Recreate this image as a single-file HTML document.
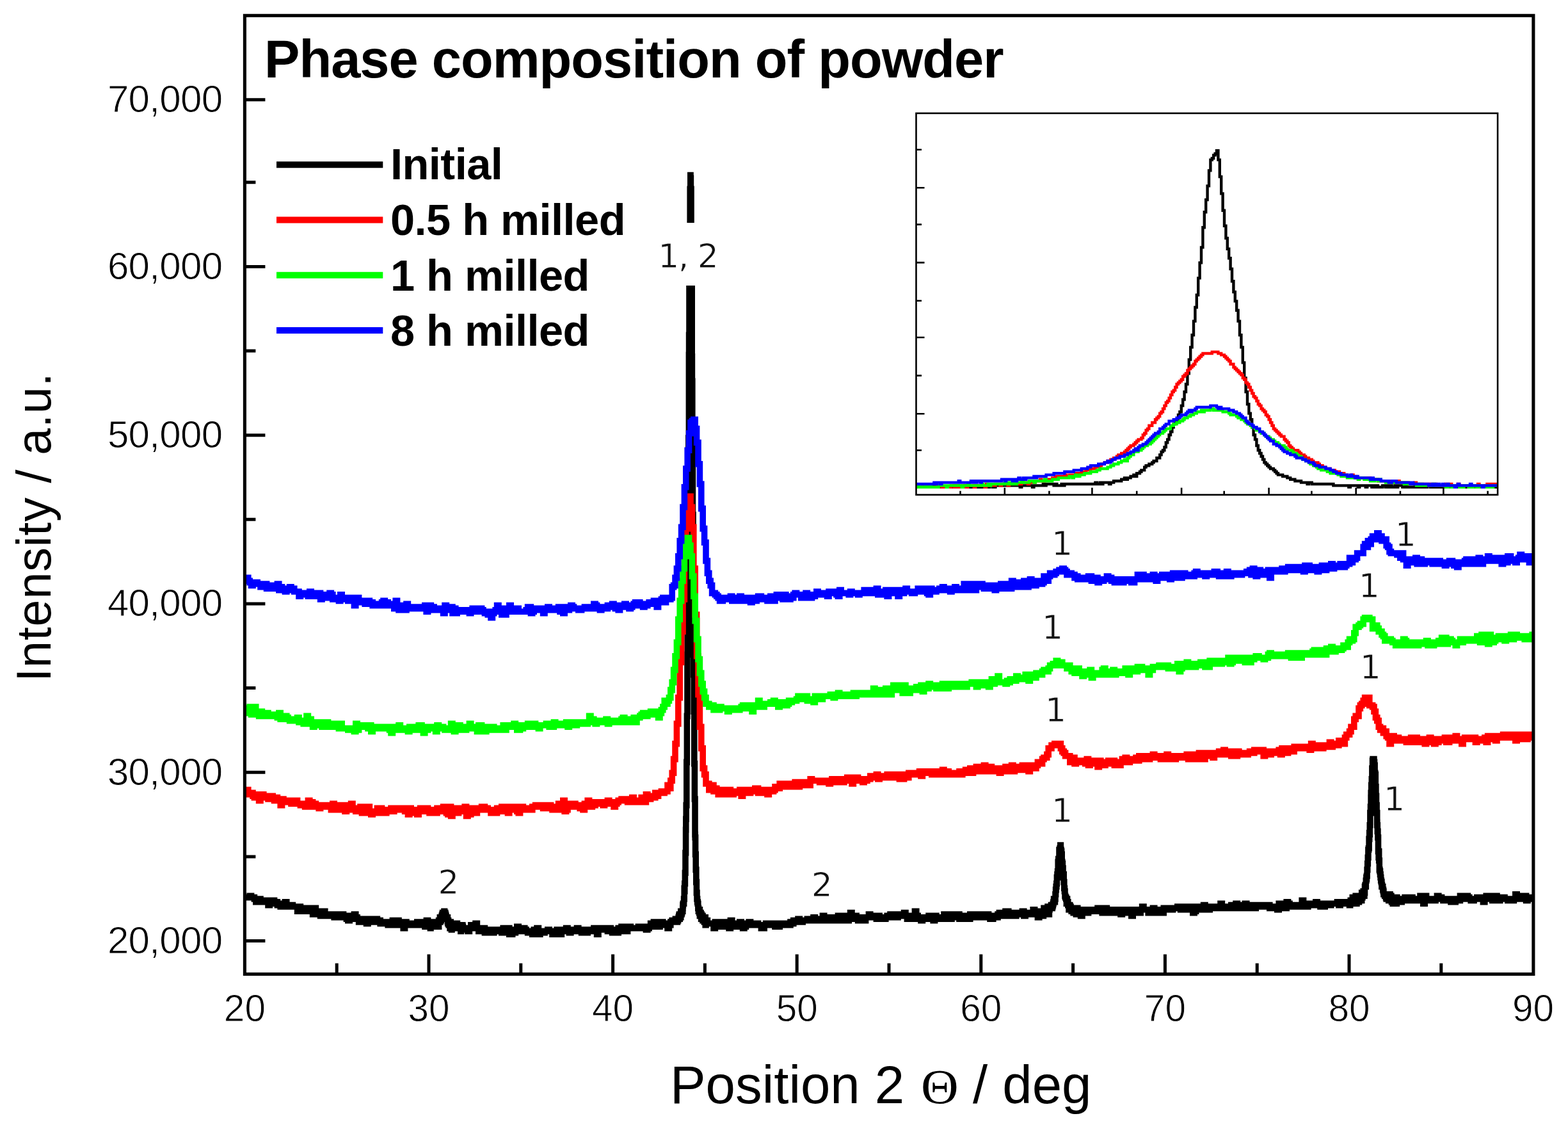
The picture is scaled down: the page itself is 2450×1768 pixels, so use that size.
<!DOCTYPE html><html><head><meta charset="utf-8"><title>Phase composition of powder</title>
<style>html,body{margin:0;padding:0;background:#fff;overflow:hidden;}svg{display:block;}</style></head><body>
<svg width="2450" height="1768" viewBox="0 0 2450 1768" font-family="'Liberation Sans', Arial, sans-serif">
<rect width="2450" height="1768" fill="#fff"/>
<defs><clipPath id="pc"><rect x="380" y="22" width="2018" height="1501"/></clipPath><clipPath id="ic"><rect x="1431.5" y="176.9" width="908.6" height="595.9"/></clipPath></defs>
<g fill="none" stroke-width="9.6" stroke-linejoin="miter" stroke-linecap="square" clip-path="url(#pc)">
<path stroke="#000" d="M383.0 1401.6H390.2V1399.2H392.6V1401.6H397.4V1404.0H399.8V1408.8H402.2V1404.0H407.0V1408.8H414.2V1406.4H416.6V1408.8H419.0V1413.6H421.4V1406.4H423.8V1411.2H426.2V1406.4H428.6V1408.8H433.4V1413.6H435.8V1411.2H438.2V1416.0H443.0V1413.6H445.4V1408.8H447.8V1413.6H450.2V1416.0H455.0V1413.6H457.4V1416.0H464.6V1423.2H467.0V1416.0H469.4V1420.8H471.8V1423.2H474.2V1418.4H476.6V1420.8H479.0V1423.2H483.8V1418.4H486.2V1423.2H488.6V1428.0H491.0V1418.4H493.4V1428.0H495.8V1425.6H498.2V1423.2H500.6V1430.4H503.0V1428.0H505.4V1423.2H507.8V1428.0H510.2V1430.4H512.6V1428.0H515.0V1430.4H517.4V1428.0H519.8V1430.4H522.2V1432.8H524.6V1428.0H527.0V1430.4H531.8V1432.8H534.2V1428.0H536.6V1430.4H539.0V1432.8H541.4V1435.2H543.8V1437.6H546.2V1430.4H548.6V1432.8H551.0V1435.2H553.4V1428.0H555.8V1432.8H558.2V1435.2H560.6V1440.0H563.0V1437.6H565.4V1435.2H572.6V1442.4H575.0V1435.2H577.4V1437.6H579.8V1440.0H582.2V1437.6H587.0V1435.2H589.4V1440.0H591.8V1437.6H594.2V1442.4H599.0V1440.0H601.4V1442.4H603.8V1440.0H606.2V1444.8H608.6V1442.4H611.0V1444.8H613.4V1437.6H615.8V1444.8H618.2V1437.6H623.0V1442.4H625.4V1440.0H627.8V1444.8H630.2V1449.6H632.6V1440.0H635.0V1442.4H637.4V1444.8H642.2V1442.4H647.0V1444.8H651.8V1440.0H654.2V1444.8H659.0V1440.0H661.4V1444.8H663.8V1442.4H664.0V1447.2H664.6V1444.8H665.8V1442.4H666.2V1444.8H666.4V1437.6H667.0V1440.0H667.6V1444.8H668.2V1437.6H668.6V1447.2H668.8V1440.0H669.4V1447.2H670.0V1442.4H670.6V1447.2H671.0V1444.8H671.2V1440.0H671.8V1447.2H672.4V1449.6H673.0V1444.8H673.4V1442.4H673.6V1444.8H674.2V1442.4H674.8V1447.2H675.4V1442.4H675.8V1444.8H676.0V1442.4H677.2V1440.0H677.8V1447.2H678.2V1444.8H678.4V1447.2H679.0V1444.8H679.6V1442.4H680.8V1444.8H681.4V1442.4H682.6V1440.0H683.0V1442.4H683.2V1447.2H683.8V1442.4H684.4V1440.0H685.0V1442.4H685.4V1447.2H685.6V1437.6H686.2V1440.0H686.8V1437.6H687.4V1432.8H687.8V1440.0H688.0V1437.6H689.2V1432.8H689.8V1435.2H690.2V1430.4H691.0V1428.0H691.6V1425.6H692.2V1430.4H692.6V1425.6H692.8V1428.0H693.4V1425.6H694.0V1423.2H694.6V1425.6H695.0V1428.0H695.2V1425.6H695.8V1428.0H696.4V1430.4H697.0V1435.2H697.6V1432.8H699.4V1440.0H699.8V1442.4H700.0V1437.6H700.6V1442.4H701.2V1444.8H702.4V1442.4H703.0V1449.6H703.6V1440.0H704.2V1447.2H705.4V1452.0H706.0V1449.6H706.6V1442.4H707.2V1449.6H707.8V1444.8H708.4V1447.2H709.0V1449.6H709.4V1442.4H710.2V1447.2H712.0V1444.8H712.6V1442.4H713.2V1447.2H713.8V1444.8H714.2V1442.4H714.4V1449.6H715.0V1447.2H715.6V1449.6H716.2V1444.8H716.6V1447.2H716.8V1444.8H717.4V1447.2H718.0V1449.6H718.6V1447.2H719.0V1449.6H719.8V1454.4H720.4V1444.8H721.0V1452.0H721.4V1449.6H722.2V1444.8H722.8V1447.2H723.4V1452.0H723.8V1449.6H731.0V1454.4H733.4V1449.6H735.8V1444.8H738.2V1449.6H740.6V1444.8H743.0V1442.4H745.4V1449.6H747.8V1454.4H750.2V1452.0H752.6V1449.6H757.4V1456.8H759.8V1452.0H767.0V1454.4H769.4V1456.8H771.8V1454.4H776.6V1452.0H779.0V1454.4H781.4V1452.0H783.8V1456.8H786.2V1449.6H788.6V1454.4H793.4V1449.6H795.8V1459.2H800.6V1452.0H803.0V1456.8H805.4V1454.4H807.8V1447.2H810.2V1454.4H817.4V1449.6H819.8V1452.0H822.2V1454.4H824.6V1456.8H827.0V1454.4H831.8V1459.2H834.2V1452.0H839.0V1449.6H841.4V1459.2H843.8V1456.8H851.0V1454.4H855.8V1452.0H858.2V1454.4H863.0V1459.2H865.4V1454.4H870.2V1452.0H875.0V1459.2H877.4V1454.4H882.2V1452.0H884.6V1449.6H887.0V1454.4H889.4V1456.8H891.8V1452.0H896.6V1454.4H901.4V1449.6H903.8V1452.0H908.6V1456.8H911.0V1452.0H913.4V1454.4H915.8V1456.8H918.2V1452.0H923.0V1454.4H925.4V1452.0H927.8V1449.6H930.2V1454.4H932.6V1459.2H935.0V1452.0H939.8V1449.6H942.2V1452.0H944.6V1449.6H949.4V1454.4H951.8V1449.6H954.2V1454.4H956.6V1456.8H959.0V1452.0H963.8V1456.8H966.2V1449.6H971.0V1447.2H973.4V1452.0H975.8V1454.4H980.6V1447.2H985.4V1449.6H997.4V1447.2H999.8V1449.6H1004.6V1447.2H1007.0V1449.6H1009.4V1452.0H1011.8V1449.6H1014.2V1447.2H1016.6V1442.4H1019.0V1447.2H1021.4V1440.0H1023.8V1442.4H1026.2V1447.2H1031.0V1444.8H1033.4V1440.0H1035.8V1442.4H1040.6V1444.8H1043.0V1449.6H1045.4V1444.8H1047.8V1440.0H1050.2V1437.6H1052.6V1440.0H1055.4V1435.2H1056.0V1440.0H1056.6V1435.2H1057.2V1440.0H1058.4V1435.2H1059.0V1437.6H1059.6V1435.2H1060.2V1432.8H1060.8V1430.4H1061.4V1428.0H1062.0V1435.2H1062.2V1430.4H1063.2V1432.8H1063.8V1423.2H1064.4V1425.6H1064.6V1428.0H1065.0V1425.6H1065.6V1423.2H1066.8V1418.4H1067.0V1413.6H1067.4V1411.2H1068.6V1404.0H1069.2V1387.2H1069.4V1392.0H1069.8V1380.0H1070.4V1363.2H1071.0V1332.0H1071.6V1296.0H1071.8V1279.2H1072.2V1257.6H1072.8V1190.4H1073.4V1118.4H1074.0V1022.4H1074.2V991.2H1074.6V914.4H1075.2V801.6H1075.8V684.0H1076.4V554.4H1076.6V523.2H1077.0V448.8H1077.6V355.2H1078.2V295.2H1078.8V273.6H1079.0V278.4H1079.4V295.2H1080.0V355.2H1080.6V446.4H1081.2V556.8H1081.4V595.2H1081.8V679.2H1082.4V804.0H1083.0V914.4H1083.6V1022.4H1083.8V1053.6H1084.2V1111.2H1084.8V1192.8H1085.4V1248.0H1086.0V1303.2H1086.2V1308.0H1086.6V1334.4H1087.2V1358.4H1087.8V1377.6H1088.4V1394.4H1089.0V1404.0H1089.6V1408.8H1090.2V1411.2H1090.8V1418.4H1091.4V1423.2H1092.0V1420.8H1092.6V1425.6H1093.2V1420.8H1093.4V1430.4H1093.8V1425.6H1095.0V1430.4H1095.6V1435.2H1095.8V1428.0H1096.2V1430.4H1096.8V1432.8H1097.4V1430.4H1098.0V1437.6H1098.2V1432.8H1099.2V1437.6H1099.8V1435.2H1100.4V1440.0H1100.6V1435.2H1101.6V1432.8H1102.2V1444.8H1103.0V1437.6H1105.4V1442.4H1115.0V1449.6H1117.4V1440.0H1122.2V1442.4H1124.6V1440.0H1127.0V1447.2H1131.8V1442.4H1134.2V1440.0H1136.6V1444.8H1139.0V1449.6H1141.4V1437.6H1143.8V1447.2H1146.2V1442.4H1148.6V1447.2H1151.0V1442.4H1153.4V1444.8H1155.8V1440.0H1158.2V1442.4H1160.6V1449.6H1163.0V1447.2H1165.4V1444.8H1167.8V1442.4H1170.2V1440.0H1172.6V1442.4H1175.0V1444.8H1182.2V1442.4H1184.6V1444.8H1189.4V1449.6H1194.2V1444.8H1196.6V1442.4H1199.0V1444.8H1201.4V1442.4H1206.2V1444.8H1208.6V1442.4H1211.0V1447.2H1213.4V1444.8H1215.8V1447.2H1218.2V1444.8H1220.6V1442.4H1225.4V1444.8H1227.8V1442.4H1230.2V1444.8H1235.0V1440.0H1237.4V1442.4H1239.8V1437.6H1242.2V1440.0H1247.0V1435.2H1249.4V1440.0H1254.2V1437.6H1261.4V1435.2H1268.6V1437.6H1271.0V1432.8H1273.4V1437.6H1278.2V1435.2H1283.0V1437.6H1285.4V1430.4H1287.8V1437.6H1290.2V1435.2H1295.0V1437.6H1297.4V1432.8H1299.8V1435.2H1302.2V1437.6H1304.6V1435.2H1309.4V1430.4H1311.8V1435.2H1314.2V1437.6H1319.0V1435.2H1321.4V1430.4H1323.8V1437.6H1326.2V1432.8H1328.6V1425.6H1331.0V1435.2H1333.4V1430.4H1338.2V1432.8H1340.6V1437.6H1343.0V1432.8H1345.4V1435.2H1347.8V1437.6H1352.6V1432.8H1357.4V1428.0H1359.8V1430.4H1362.2V1432.8H1369.4V1435.2H1371.8V1430.4H1374.2V1432.8H1376.6V1435.2H1379.0V1432.8H1381.4V1435.2H1383.8V1432.8H1386.2V1430.4H1388.6V1432.8H1391.0V1428.0H1395.8V1432.8H1403.0V1428.0H1405.4V1430.4H1412.6V1425.6H1415.0V1430.4H1417.4V1435.2H1419.8V1432.8H1422.2V1430.4H1424.6V1432.8H1427.0V1435.2H1429.4V1423.2H1431.8V1430.4H1434.2V1432.8H1439.0V1437.6H1441.4V1435.2H1443.8V1432.8H1448.6V1435.2H1451.0V1430.4H1453.4V1432.8H1455.8V1435.2H1458.2V1437.6H1460.6V1430.4H1463.0V1432.8H1467.8V1435.2H1470.2V1432.8H1472.6V1435.2H1475.0V1428.0H1477.4V1430.4H1482.2V1435.2H1487.0V1428.0H1489.4V1430.4H1491.8V1432.8H1494.2V1430.4H1496.6V1428.0H1499.0V1435.2H1501.4V1432.8H1506.2V1430.4H1508.6V1435.2H1511.0V1430.4H1513.4V1435.2H1515.8V1428.0H1520.6V1430.4H1523.0V1428.0H1525.4V1432.8H1527.8V1430.4H1530.2V1428.0H1532.6V1430.4H1535.0V1428.0H1537.4V1432.8H1539.8V1428.0H1544.6V1432.8H1547.0V1435.2H1551.8V1430.4H1556.6V1432.8H1559.0V1428.0H1561.4V1425.6H1563.8V1428.0H1566.2V1430.4H1568.6V1425.6H1571.0V1423.2H1575.8V1430.4H1578.2V1425.6H1580.6V1428.0H1585.4V1430.4H1587.8V1425.6H1590.2V1428.0H1592.6V1425.6H1597.4V1423.2H1599.8V1430.4H1602.2V1425.6H1611.8V1428.0H1614.2V1420.8H1616.6V1423.2H1619.0V1425.6H1621.4V1432.8H1623.8V1428.0H1625.0V1425.6H1625.6V1428.0H1626.2V1430.4H1626.2V1423.2H1627.4V1428.0H1628.0V1425.6H1628.6V1423.2H1629.2V1430.4H1630.4V1425.6H1631.0V1418.4H1631.6V1425.6H1632.2V1423.2H1632.8V1425.6H1633.4V1423.2H1634.0V1418.4H1634.6V1423.2H1635.2V1420.8H1637.0V1416.0H1637.6V1425.6H1638.2V1423.2H1638.2V1425.6H1638.8V1428.0H1639.4V1420.8H1640.0V1416.0H1640.6V1418.4H1640.6V1416.0H1641.2V1418.4H1642.4V1413.6H1643.0V1418.4H1643.0V1413.6H1643.6V1418.4H1644.2V1416.0H1644.8V1413.6H1645.4V1411.2H1646.0V1408.8H1646.6V1404.0H1647.2V1406.4H1647.8V1408.8H1648.4V1404.0H1649.0V1396.8H1649.6V1389.6H1650.2V1384.8H1650.8V1380.0H1651.4V1370.4H1652.0V1365.6H1652.6V1356.0H1652.6V1358.4H1653.2V1346.4H1653.8V1341.6H1655.0V1329.6H1655.0V1327.2H1656.2V1324.8H1656.8V1320.0H1657.4V1324.8H1657.4V1327.2H1658.0V1329.6H1658.6V1334.4H1659.2V1346.4H1659.8V1348.8H1660.4V1356.0H1661.0V1370.4H1661.6V1365.6H1662.2V1377.6H1662.8V1387.2H1663.4V1392.0H1664.0V1399.2H1664.6V1394.4H1664.6V1401.6H1665.8V1404.0H1666.4V1411.2H1667.0V1408.8H1667.0V1404.0H1667.6V1411.2H1668.2V1408.8H1668.8V1413.6H1669.4V1418.4H1669.4V1416.0H1670.0V1420.8H1670.6V1418.4H1671.2V1413.6H1671.8V1416.0H1673.0V1420.8H1673.6V1418.4H1674.2V1416.0H1674.2V1423.2H1674.8V1420.8H1675.4V1423.2H1676.0V1420.8H1676.6V1423.2H1676.6V1420.8H1677.2V1425.6H1677.8V1423.2H1679.0V1418.4H1679.6V1420.8H1680.8V1423.2H1681.4V1418.4H1681.4V1428.0H1682.0V1423.2H1682.6V1418.4H1683.8V1423.2H1684.4V1420.8H1685.0V1423.2H1685.6V1420.8H1686.2V1425.6H1686.2V1420.8H1686.8V1423.2H1687.4V1425.6H1688.6V1430.4H1691.0V1420.8H1693.4V1423.2H1695.8V1420.8H1698.2V1425.6H1700.6V1420.8H1703.0V1423.2H1707.8V1420.8H1712.6V1423.2H1715.0V1418.4H1717.4V1420.8H1719.8V1423.2H1722.2V1425.6H1724.6V1423.2H1727.0V1418.4H1729.4V1423.2H1731.8V1425.6H1736.6V1423.2H1739.0V1420.8H1741.4V1425.6H1743.8V1420.8H1751.0V1428.0H1753.4V1423.2H1755.8V1425.6H1758.2V1420.8H1760.6V1425.6H1763.0V1420.8H1765.4V1423.2H1767.8V1430.4H1770.2V1425.6H1772.6V1420.8H1777.4V1423.2H1779.8V1425.6H1782.2V1420.8H1784.6V1416.0H1787.0V1420.8H1794.2V1425.6H1796.6V1420.8H1799.0V1423.2H1801.4V1418.4H1803.8V1423.2H1806.2V1425.6H1808.6V1423.2H1811.0V1420.8H1815.8V1425.6H1818.2V1418.4H1823.0V1420.8H1827.8V1418.4H1830.2V1420.8H1832.6V1418.4H1839.8V1416.0H1842.2V1418.4H1844.6V1420.8H1847.0V1416.0H1849.4V1418.4H1851.8V1420.8H1854.2V1416.0H1856.6V1418.4H1859.0V1416.0H1861.4V1420.8H1863.8V1425.6H1866.2V1423.2H1868.6V1416.0H1871.0V1420.8H1873.4V1418.4H1878.2V1420.8H1880.6V1413.6H1883.0V1420.8H1885.4V1416.0H1887.8V1420.8H1890.2V1418.4H1892.6V1416.0H1895.0V1418.4H1899.8V1416.0H1902.2V1418.4H1904.6V1416.0H1907.0V1411.2H1909.4V1418.4H1914.2V1416.0H1919.0V1418.4H1921.4V1416.0H1923.8V1413.6H1926.2V1416.0H1928.6V1418.4H1931.0V1411.2H1933.4V1418.4H1935.8V1413.6H1940.6V1418.4H1943.0V1416.0H1945.4V1411.2H1947.8V1413.6H1950.2V1418.4H1955.0V1413.6H1957.4V1416.0H1959.8V1418.4H1962.2V1413.6H1964.6V1416.0H1969.4V1413.6H1974.2V1416.0H1979.0V1413.6H1983.8V1418.4H1986.2V1416.0H1991.0V1418.4H1993.4V1416.0H1995.8V1420.8H1998.2V1411.2H2000.6V1416.0H2003.0V1413.6H2005.4V1418.4H2010.2V1408.8H2012.6V1411.2H2015.0V1416.0H2022.2V1413.6H2024.6V1416.0H2029.4V1413.6H2031.8V1416.0H2034.2V1406.4H2036.6V1416.0H2039.0V1411.2H2041.4V1416.0H2043.8V1411.2H2048.6V1413.6H2051.0V1411.2H2055.8V1408.8H2058.2V1413.6H2063.0V1416.0H2065.4V1411.2H2067.8V1416.0H2070.2V1411.2H2075.0V1413.6H2079.8V1411.2H2089.4V1408.8H2091.8V1413.6H2094.2V1408.8H2096.6V1411.2H2099.0V1408.8H2101.4V1411.2H2106.2V1408.8H2108.5V1413.6H2108.6V1408.8H2109.1V1413.6H2109.7V1411.2H2110.3V1406.4H2111.0V1408.8H2112.7V1406.4H2113.3V1401.6H2113.4V1406.4H2113.9V1401.6H2114.5V1408.8H2115.1V1404.0H2115.8V1406.4H2116.3V1408.8H2116.9V1401.6H2118.1V1404.0H2118.2V1399.2H2118.7V1404.0H2119.3V1411.2H2119.9V1401.6H2120.5V1406.4H2120.6V1401.6H2121.1V1406.4H2121.7V1404.0H2122.9V1406.4H2123.0V1408.8H2123.5V1404.0H2124.7V1399.2H2125.3V1404.0H2125.4V1401.6H2125.9V1404.0H2126.5V1401.6H2127.1V1406.4H2127.7V1394.4H2127.8V1399.2H2128.3V1401.6H2128.9V1396.8H2129.5V1394.4H2130.2V1392.0H2130.7V1394.4H2131.3V1399.2H2131.9V1394.4H2132.5V1384.8H2133.1V1382.4H2133.7V1384.8H2134.3V1375.2H2134.9V1370.4H2135.0V1372.8H2135.5V1368.0H2136.1V1358.4H2136.7V1348.8H2137.3V1339.2H2137.9V1327.2H2138.5V1324.8H2139.1V1310.4H2139.7V1300.8H2139.8V1303.2H2140.3V1288.8H2140.9V1269.6H2141.5V1260.0H2142.1V1245.6H2142.2V1238.4H2142.7V1226.4H2143.3V1216.8H2143.9V1200.0H2144.6V1188.0H2145.1V1185.6H2146.9V1190.4H2147.5V1195.2H2148.1V1207.2H2148.7V1209.6H2149.3V1228.8H2149.9V1243.2H2150.5V1257.6H2151.1V1269.6H2151.7V1284.0H2151.8V1288.8H2152.3V1298.4H2152.9V1308.0H2153.5V1329.6H2154.1V1339.2H2154.2V1329.6H2154.7V1344.0H2155.3V1358.4H2155.9V1360.8H2156.5V1365.6H2157.1V1370.4H2157.7V1375.2H2158.3V1377.6H2158.9V1384.8H2159.0V1382.4H2159.5V1384.8H2160.7V1389.6H2161.4V1392.0H2161.9V1396.8H2163.7V1399.2H2163.8V1396.8H2165.5V1401.6H2166.1V1396.8H2166.2V1404.0H2166.7V1399.2H2168.6V1401.6H2169.1V1399.2H2169.7V1406.4H2170.3V1399.2H2170.9V1396.8H2171.0V1399.2H2171.5V1396.8H2172.1V1404.0H2172.7V1406.4H2173.3V1404.0H2173.4V1399.2H2173.9V1401.6H2174.5V1408.8H2175.1V1404.0H2175.8V1406.4H2176.3V1411.2H2176.9V1408.8H2177.5V1404.0H2178.1V1406.4H2178.7V1401.6H2179.9V1404.0H2180.5V1401.6H2180.6V1404.0H2181.7V1411.2H2182.3V1401.6H2182.9V1404.0H2185.4V1406.4H2187.8V1408.8H2190.2V1404.0H2195.0V1401.6H2197.4V1404.0H2199.8V1406.4H2204.6V1401.6H2207.0V1404.0H2209.4V1406.4H2214.2V1404.0H2219.0V1399.2H2221.4V1401.6H2223.8V1411.2H2226.2V1399.2H2228.6V1404.0H2231.0V1406.4H2233.4V1404.0H2240.6V1406.4H2243.0V1404.0H2245.4V1399.2H2247.8V1404.0H2250.2V1401.6H2252.6V1404.0H2255.0V1406.4H2262.2V1404.0H2264.6V1406.4H2267.0V1408.8H2274.2V1404.0H2279.0V1406.4H2281.4V1399.2H2283.8V1404.0H2286.2V1401.6H2288.6V1404.0H2291.0V1399.2H2293.4V1401.6H2295.8V1404.0H2298.2V1406.4H2303.0V1404.0H2307.8V1401.6H2310.2V1404.0H2312.6V1401.6H2315.0V1404.0H2317.4V1408.8H2319.8V1404.0H2322.2V1399.2H2324.6V1401.6H2327.0V1399.2H2331.8V1406.4H2334.2V1404.0H2336.6V1399.2H2339.0V1404.0H2341.4V1406.4H2343.8V1401.6H2351.0V1404.0H2355.8V1406.4H2365.4V1404.0H2367.8V1396.8H2370.2V1401.6H2377.4V1404.0H2379.8V1399.2H2384.6V1406.4H2387.0V1404.0H2389.4V1401.6H2391.8V1404.0H2394.2"/>
<path stroke="#f00" d="M383.0 1240.8H385.4V1233.6H387.8V1238.4H390.2V1240.8H392.6V1238.4H395.0V1243.2H397.4V1245.6H399.8V1240.8H404.6V1250.4H407.0V1243.2H409.4V1240.8H411.8V1245.6H416.6V1243.2H419.0V1248.0H421.4V1245.6H423.8V1243.2H426.2V1248.0H428.6V1250.4H431.0V1245.6H433.4V1248.0H438.2V1257.6H440.6V1248.0H443.0V1252.8H445.4V1250.4H450.2V1252.8H455.0V1255.2H457.4V1252.8H459.8V1250.4H464.6V1255.2H469.4V1257.6H471.8V1255.2H474.2V1257.6H476.6V1260.0H479.0V1255.2H481.4V1250.4H483.8V1252.8H488.6V1260.0H491.0V1255.2H493.4V1260.0H498.2V1262.4H500.6V1260.0H503.0V1257.6H507.8V1260.0H512.6V1257.6H515.0V1260.0H517.4V1264.8H519.8V1255.2H522.2V1262.4H524.6V1257.6H527.0V1262.4H529.4V1264.8H531.8V1262.4H534.2V1264.8H536.6V1257.6H539.0V1267.2H541.4V1262.4H543.8V1264.8H548.6V1255.2H551.0V1262.4H553.4V1264.8H555.8V1267.2H558.2V1264.8H563.0V1260.0H565.4V1269.6H570.2V1264.8H575.0V1260.0H577.4V1267.2H579.8V1272.0H582.2V1267.2H584.6V1269.6H587.0V1267.2H589.4V1262.4H591.8V1269.6H594.2V1262.4H596.6V1264.8H599.0V1267.2H601.4V1269.6H603.8V1267.2H608.6V1264.8H611.0V1262.4H613.4V1267.2H615.8V1264.8H618.2V1262.4H623.0V1264.8H625.4V1262.4H632.6V1267.2H637.4V1272.0H639.8V1262.4H642.2V1264.8H644.6V1269.6H647.0V1267.2H649.4V1264.8H651.8V1272.0H654.2V1264.8H656.6V1262.4H661.4V1267.2H666.2V1262.4H668.6V1264.8H671.0V1269.6H675.8V1264.8H678.2V1269.6H683.0V1262.4H685.4V1267.2H690.2V1264.8H692.6V1260.0H695.0V1267.2H697.4V1269.6H699.8V1272.0H702.2V1260.0H704.6V1274.4H707.0V1262.4H709.4V1269.6H716.6V1267.2H719.0V1262.4H721.4V1267.2H723.8V1264.8H726.2V1260.0H728.6V1274.4H731.0V1267.2H733.4V1272.0H735.8V1262.4H738.2V1269.6H745.4V1264.8H747.8V1262.4H750.2V1264.8H752.6V1260.0H757.4V1264.8H759.8V1262.4H762.2V1264.8H767.0V1269.6H771.8V1264.8H774.2V1269.6H776.6V1262.4H779.0V1264.8H781.4V1267.2H783.8V1260.0H786.2V1262.4H788.6V1260.0H791.0V1264.8H793.4V1269.6H795.8V1262.4H798.2V1264.8H800.6V1260.0H807.8V1267.2H810.2V1269.6H812.6V1264.8H815.0V1260.0H817.4V1264.8H819.8V1262.4H822.2V1264.8H824.6V1262.4H829.4V1264.8H831.8V1260.0H836.6V1257.6H839.0V1260.0H841.4V1257.6H843.8V1260.0H846.2V1257.6H848.6V1262.4H853.4V1257.6H860.6V1262.4H863.0V1264.8H865.4V1262.4H867.8V1260.0H870.2V1264.8H872.6V1255.2H875.0V1264.8H877.4V1257.6H879.8V1250.4H882.2V1267.2H884.6V1264.8H887.0V1255.2H889.4V1260.0H891.8V1257.6H894.2V1260.0H896.6V1255.2H899.0V1257.6H901.4V1260.0H903.8V1257.6H906.2V1262.4H908.6V1257.6H911.0V1264.8H913.4V1255.2H915.8V1257.6H918.2V1250.4H920.6V1252.8H923.0V1260.0H925.4V1252.8H927.8V1257.6H930.2V1255.2H932.6V1252.8H935.0V1255.2H937.4V1252.8H942.2V1257.6H944.6V1255.2H947.0V1252.8H949.4V1250.4H951.8V1255.2H954.2V1252.8H956.6V1255.2H959.0V1260.0H961.4V1255.2H963.8V1252.8H966.2V1250.4H971.0V1248.0H975.8V1250.4H980.6V1252.8H983.0V1248.0H987.8V1245.6H990.2V1252.8H992.6V1250.4H995.0V1252.8H997.4V1250.4H1002.2V1245.6H1004.6V1248.0H1007.0V1252.8H1009.4V1240.8H1011.8V1248.0H1016.6V1243.2H1019.0V1245.6H1023.8V1238.4H1026.2V1243.2H1028.6V1238.4H1033.4V1236.0H1035.8V1238.4H1038.2V1236.0H1043.0V1226.4H1045.4V1231.2H1047.8V1219.2H1050.2V1207.2H1052.6V1185.6H1055.0V1161.6H1057.4V1130.4H1059.8V1089.6H1062.2V1034.4H1064.6V986.4H1067.0V936.0H1069.4V866.4H1071.8V825.6H1074.2V792.0H1076.6V775.2H1079.0V792.0H1081.4V823.2H1083.8V888.0H1086.2V960.0H1088.6V1024.8H1091.0V1084.8H1093.4V1135.2H1095.8V1168.8H1098.2V1200.0H1100.6V1209.6H1103.0V1224.0H1107.8V1233.6H1112.6V1226.4H1115.0V1236.0H1117.4V1231.2H1119.8V1233.6H1122.2V1240.8H1124.6V1233.6H1129.4V1240.8H1131.8V1236.0H1134.2V1240.8H1136.6V1238.4H1139.0V1233.6H1141.4V1236.0H1143.8V1240.8H1146.2V1238.4H1148.6V1236.0H1155.8V1233.6H1158.2V1243.2H1160.6V1236.0H1163.0V1233.6H1167.8V1238.4H1172.6V1236.0H1175.0V1233.6H1177.4V1236.0H1179.8V1231.2H1184.6V1238.4H1187.0V1233.6H1189.4V1236.0H1191.8V1238.4H1194.2V1236.0H1196.6V1233.6H1199.0V1240.8H1201.4V1236.0H1203.8V1233.6H1206.2V1236.0H1208.6V1233.6H1211.0V1228.8H1213.4V1231.2H1218.2V1224.0H1220.6V1228.8H1227.8V1224.0H1230.2V1226.4H1232.6V1228.8H1237.4V1224.0H1239.8V1228.8H1242.2V1221.6H1244.6V1224.0H1247.0V1228.8H1249.4V1221.6H1254.2V1226.4H1256.6V1221.6H1261.4V1224.0H1263.8V1226.4H1266.2V1216.8H1268.6V1219.2H1280.6V1221.6H1283.0V1219.2H1285.4V1221.6H1290.2V1219.2H1292.6V1221.6H1295.0V1224.0H1297.4V1221.6H1299.8V1216.8H1302.2V1219.2H1304.6V1216.8H1307.0V1219.2H1309.4V1221.6H1311.8V1216.8H1314.2V1219.2H1316.6V1221.6H1319.0V1216.8H1321.4V1219.2H1323.8V1214.4H1328.6V1216.8H1331.0V1224.0H1333.4V1216.8H1335.8V1214.4H1340.6V1216.8H1343.0V1219.2H1345.4V1216.8H1347.8V1221.6H1350.2V1216.8H1352.6V1219.2H1355.0V1216.8H1359.8V1212.0H1362.2V1214.4H1369.4V1209.6H1371.8V1216.8H1374.2V1214.4H1376.6V1212.0H1379.0V1214.4H1386.2V1209.6H1391.0V1214.4H1395.8V1212.0H1400.6V1209.6H1403.0V1212.0H1405.4V1216.8H1407.8V1209.6H1410.2V1216.8H1412.6V1214.4H1415.0V1209.6H1417.4V1214.4H1419.8V1207.2H1427.0V1209.6H1436.6V1204.8H1439.0V1212.0H1441.4V1204.8H1443.8V1207.2H1448.6V1204.8H1455.8V1209.6H1463.0V1204.8H1470.2V1209.6H1472.6V1202.4H1475.0V1209.6H1477.4V1204.8H1482.2V1207.2H1484.6V1209.6H1487.0V1207.2H1489.4V1209.6H1491.8V1207.2H1494.2V1209.6H1499.0V1204.8H1501.4V1209.6H1503.8V1204.8H1508.6V1202.4H1511.0V1204.8H1513.4V1207.2H1515.8V1200.0H1518.2V1207.2H1520.6V1204.8H1525.4V1197.6H1527.8V1202.4H1530.2V1204.8H1532.6V1200.0H1535.0V1202.4H1537.4V1195.2H1539.8V1204.8H1542.2V1200.0H1544.6V1204.8H1547.0V1197.6H1549.4V1204.8H1551.8V1202.4H1554.2V1204.8H1556.6V1200.0H1561.4V1207.2H1563.8V1200.0H1571.0V1197.6H1573.4V1204.8H1578.2V1197.6H1580.6V1195.2H1583.0V1204.8H1585.4V1202.4H1592.6V1197.6H1597.4V1195.2H1602.2V1202.4H1604.6V1195.2H1607.0V1204.8H1609.4V1197.6H1611.8V1195.2H1614.2V1200.0H1619.0V1195.2H1621.4V1190.4H1623.8V1192.8H1628.6V1185.6H1631.0V1183.2H1635.8V1178.4H1638.2V1168.8H1643.0V1164.0H1647.8V1161.6H1650.2V1164.0H1655.0V1161.6H1657.4V1168.8H1659.8V1173.6H1662.2V1176.0H1664.6V1180.8H1671.8V1190.4H1674.2V1185.6H1676.6V1183.2H1679.0V1192.8H1681.4V1190.4H1686.2V1188.0H1693.4V1190.4H1695.8V1192.8H1698.2V1185.6H1700.6V1195.2H1703.0V1188.0H1707.8V1192.8H1712.6V1188.0H1715.0V1197.6H1717.4V1188.0H1719.8V1192.8H1724.6V1195.2H1727.0V1190.4H1729.4V1192.8H1731.8V1188.0H1734.2V1192.8H1736.6V1188.0H1741.4V1195.2H1743.8V1190.4H1748.6V1195.2H1751.0V1190.4H1753.4V1185.6H1755.8V1190.4H1758.2V1183.2H1760.6V1190.4H1765.4V1185.6H1770.2V1188.0H1772.6V1185.6H1775.0V1183.2H1777.4V1188.0H1779.8V1180.8H1782.2V1183.2H1789.4V1185.6H1791.8V1180.8H1794.2V1185.6H1796.6V1183.2H1799.0V1180.8H1801.4V1178.4H1803.8V1180.8H1806.2V1183.2H1808.6V1180.8H1811.0V1183.2H1813.4V1185.6H1820.6V1180.8H1823.0V1178.4H1825.4V1185.6H1827.8V1183.2H1830.2V1185.6H1832.6V1180.8H1835.0V1185.6H1837.4V1183.2H1844.6V1180.8H1851.8V1183.2H1854.2V1178.4H1856.6V1185.6H1859.0V1178.4H1861.4V1183.2H1863.8V1178.4H1868.6V1185.6H1871.0V1178.4H1873.4V1176.0H1878.2V1178.4H1880.6V1185.6H1883.0V1178.4H1885.4V1180.8H1887.8V1176.0H1890.2V1178.4H1892.6V1180.8H1895.0V1183.2H1897.4V1176.0H1899.8V1178.4H1904.6V1173.6H1907.0V1178.4H1909.4V1176.0H1911.8V1171.2H1914.2V1178.4H1919.0V1176.0H1921.4V1173.6H1923.8V1180.8H1926.2V1176.0H1928.6V1178.4H1931.0V1180.8H1933.4V1173.6H1935.8V1178.4H1938.2V1176.0H1947.8V1178.4H1950.2V1176.0H1952.6V1173.6H1957.4V1176.0H1959.8V1171.2H1962.2V1173.6H1971.8V1171.2H1974.2V1180.8H1976.6V1178.4H1979.0V1176.0H1981.4V1173.6H1983.8V1178.4H1986.2V1173.6H1995.8V1176.0H1998.2V1171.2H2000.6V1178.4H2003.0V1168.8H2005.4V1173.6H2007.8V1168.8H2010.2V1176.0H2012.6V1168.8H2015.0V1171.2H2017.4V1173.6H2022.2V1166.4H2024.6V1168.8H2027.0V1166.4H2029.4V1168.8H2036.6V1166.4H2043.8V1168.8H2046.2V1171.2H2048.6V1161.6H2051.0V1166.4H2055.8V1168.8H2058.2V1164.0H2060.6V1166.4H2063.0V1164.0H2065.4V1168.8H2067.8V1166.4H2070.2V1164.0H2072.6V1166.4H2075.0V1164.0H2077.4V1159.2H2079.8V1166.4H2082.2V1164.0H2084.6V1161.6H2087.0V1164.0H2091.8V1156.8H2096.6V1161.6H2101.4V1152.0H2103.8V1147.2H2108.6V1142.4H2111.0V1135.2H2115.8V1123.2H2118.2V1118.4H2123.0V1106.4H2125.4V1101.6H2127.8V1099.2H2130.2V1094.4H2132.6V1089.6H2139.8V1101.6H2144.6V1104.0H2147.0V1111.2H2149.4V1120.8H2151.8V1125.6H2154.2V1135.2H2156.6V1140.0H2159.0V1137.6H2161.4V1144.8H2163.8V1142.4H2166.2V1149.6H2168.6V1152.0H2171.0V1161.6H2173.4V1154.4H2175.8V1149.6H2178.2V1154.4H2180.6V1156.8H2183.0V1152.0H2185.4V1154.4H2190.2V1156.8H2195.0V1154.4H2197.4V1159.2H2199.8V1154.4H2204.6V1152.0H2207.0V1154.4H2209.4V1159.2H2211.8V1152.0H2214.2V1156.8H2216.6V1159.2H2219.0V1156.8H2223.8V1154.4H2226.2V1161.6H2228.6V1159.2H2231.0V1156.8H2233.4V1152.0H2235.8V1154.4H2238.2V1159.2H2240.6V1161.6H2243.0V1156.8H2245.4V1159.2H2247.8V1154.4H2250.2V1156.8H2257.4V1152.0H2259.8V1159.2H2264.6V1152.0H2269.4V1156.8H2271.8V1154.4H2274.2V1149.6H2276.6V1156.8H2281.4V1154.4H2283.8V1161.6H2286.2V1154.4H2288.6V1152.0H2291.0V1154.4H2293.4V1152.0H2298.2V1154.4H2300.6V1152.0H2305.4V1159.2H2307.8V1156.8H2312.6V1154.4H2317.4V1156.8H2319.8V1152.0H2322.2V1159.2H2324.6V1149.6H2327.0V1152.0H2329.4V1149.6H2331.8V1152.0H2334.2V1154.4H2336.6V1156.8H2339.0V1149.6H2341.4V1152.0H2343.8V1149.6H2348.6V1147.2H2351.0V1152.0H2353.4V1147.2H2355.8V1152.0H2360.6V1149.6H2363.0V1147.2H2367.8V1156.8H2370.2V1147.2H2372.6V1154.4H2375.0V1152.0H2377.4V1149.6H2379.8V1147.2H2382.2V1152.0H2384.6V1154.4H2387.0V1147.2H2391.8V1152.0H2394.2V1149.6H2394.2"/>
<path stroke="#0f0" d="M383.0 1113.6H385.4V1106.4H387.8V1108.8H390.2V1104.0H392.6V1116.0H395.0V1106.4H397.4V1104.0H399.8V1111.2H404.6V1118.4H407.0V1111.2H409.4V1113.6H411.8V1116.0H414.2V1118.4H416.6V1113.6H419.0V1118.4H421.4V1116.0H428.6V1118.4H431.0V1116.0H433.4V1120.8H435.8V1113.6H438.2V1123.2H443.0V1120.8H445.4V1118.4H447.8V1120.8H450.2V1123.2H452.6V1125.6H455.0V1123.2H457.4V1125.6H459.8V1123.2H462.2V1125.6H464.6V1120.8H467.0V1128.0H469.4V1125.6H474.2V1130.4H476.6V1128.0H479.0V1118.4H481.4V1128.0H483.8V1123.2H486.2V1130.4H488.6V1135.2H491.0V1128.0H493.4V1130.4H495.8V1128.0H498.2V1130.4H500.6V1132.8H503.0V1135.2H505.4V1128.0H507.8V1135.2H510.2V1128.0H512.6V1132.8H515.0V1135.2H519.8V1130.4H524.6V1132.8H527.0V1135.2H529.4V1137.6H531.8V1130.4H534.2V1137.6H543.8V1140.0H546.2V1137.6H553.4V1142.4H555.8V1130.4H558.2V1140.0H560.6V1135.2H567.8V1132.8H570.2V1135.2H575.0V1137.6H577.4V1132.8H579.8V1142.4H582.2V1137.6H587.0V1135.2H594.2V1137.6H601.4V1135.2H603.8V1137.6H606.2V1135.2H608.6V1140.0H611.0V1144.8H613.4V1140.0H615.8V1137.6H618.2V1135.2H623.0V1132.8H625.4V1140.0H627.8V1137.6H630.2V1140.0H632.6V1137.6H637.4V1142.4H639.8V1135.2H642.2V1137.6H644.6V1135.2H647.0V1140.0H649.4V1135.2H654.2V1132.8H659.0V1140.0H661.4V1144.8H663.8V1135.2H666.2V1140.0H668.6V1137.6H671.0V1135.2H673.4V1137.6H678.2V1135.2H680.6V1142.4H683.0V1132.8H685.4V1137.6H690.2V1135.2H692.6V1137.6H695.0V1140.0H697.4V1137.6H702.2V1140.0H704.6V1130.4H707.0V1140.0H709.4V1142.4H711.8V1140.0H716.6V1132.8H719.0V1137.6H721.4V1135.2H726.2V1140.0H728.6V1135.2H731.0V1137.6H733.4V1130.4H735.8V1137.6H740.6V1135.2H745.4V1142.4H747.8V1132.8H752.6V1135.2H755.0V1140.0H757.4V1142.4H759.8V1137.6H762.2V1135.2H767.0V1140.0H769.4V1135.2H771.8V1140.0H776.6V1137.6H783.8V1140.0H786.2V1132.8H788.6V1140.0H791.0V1135.2H793.4V1132.8H795.8V1135.2H800.6V1132.8H803.0V1130.4H805.4V1132.8H807.8V1140.0H812.6V1137.6H817.4V1132.8H819.8V1135.2H824.6V1130.4H829.4V1135.2H831.8V1132.8H834.2V1130.4H836.6V1135.2H839.0V1132.8H841.4V1137.6H843.8V1132.8H853.4V1130.4H855.8V1132.8H858.2V1135.2H865.4V1128.0H867.8V1130.4H872.6V1132.8H875.0V1130.4H879.8V1132.8H884.6V1128.0H887.0V1135.2H889.4V1132.8H891.8V1130.4H894.2V1132.8H896.6V1128.0H899.0V1132.8H901.4V1130.4H903.8V1128.0H911.0V1130.4H918.2V1128.0H920.6V1118.4H923.0V1128.0H925.4V1123.2H927.8V1128.0H930.2V1130.4H932.6V1128.0H935.0V1125.6H937.4V1128.0H942.2V1125.6H947.0V1123.2H949.4V1130.4H951.8V1125.6H954.2V1128.0H956.6V1125.6H966.2V1128.0H968.6V1125.6H971.0V1123.2H973.4V1120.8H975.8V1128.0H978.2V1123.2H983.0V1128.0H985.4V1125.6H987.8V1123.2H990.2V1120.8H992.6V1128.0H995.0V1120.8H999.8V1118.4H1002.2V1116.0H1004.6V1113.6H1007.0V1118.4H1011.8V1116.0H1014.2V1113.6H1016.6V1111.2H1019.0V1113.6H1021.4V1111.2H1023.8V1116.0H1028.6V1120.8H1031.0V1113.6H1033.4V1108.8H1035.8V1104.0H1038.2V1094.4H1040.6V1099.2H1043.0V1094.4H1045.4V1089.6H1047.8V1077.6H1050.2V1065.6H1052.6V1046.4H1055.0V1024.8H1057.4V1003.2H1059.8V967.2H1062.2V938.4H1064.6V907.2H1067.0V888.0H1069.4V864.0H1071.8V849.6H1074.2V840.0H1076.6V852.0H1079.0V868.8H1081.4V900.0H1083.8V931.2H1086.2V969.6H1088.6V998.4H1091.0V1029.6H1093.4V1051.2H1095.8V1068.0H1098.2V1080.0H1100.6V1089.6H1103.0V1099.2H1107.8V1104.0H1112.6V1101.6H1115.0V1108.8H1117.4V1104.0H1119.8V1108.8H1124.6V1104.0H1127.0V1106.4H1136.6V1111.2H1139.0V1108.8H1143.8V1106.4H1146.2V1108.8H1148.6V1106.4H1153.4V1108.8H1155.8V1106.4H1158.2V1104.0H1160.6V1101.6H1163.0V1106.4H1167.8V1104.0H1170.2V1101.6H1172.6V1106.4H1175.0V1111.2H1177.4V1101.6H1179.8V1104.0H1184.6V1094.4H1187.0V1101.6H1189.4V1099.2H1191.8V1104.0H1194.2V1099.2H1203.8V1096.8H1206.2V1099.2H1208.6V1094.4H1211.0V1096.8H1213.4V1099.2H1215.8V1104.0H1218.2V1099.2H1220.6V1096.8H1223.0V1099.2H1227.8V1101.6H1230.2V1099.2H1232.6V1094.4H1235.0V1096.8H1237.4V1094.4H1244.6V1092.0H1247.0V1087.2H1249.4V1092.0H1251.8V1087.2H1254.2V1092.0H1259.0V1087.2H1261.4V1094.4H1266.2V1092.0H1268.6V1094.4H1271.0V1096.8H1273.4V1087.2H1275.8V1092.0H1280.6V1089.6H1283.0V1092.0H1285.4V1087.2H1297.4V1084.8H1302.2V1089.6H1304.6V1087.2H1309.4V1082.4H1311.8V1084.8H1316.6V1087.2H1319.0V1084.8H1321.4V1087.2H1323.8V1084.8H1331.0V1087.2H1333.4V1082.4H1335.8V1087.2H1338.2V1084.8H1343.0V1082.4H1345.4V1084.8H1352.6V1082.4H1355.0V1084.8H1357.4V1082.4H1359.8V1084.8H1362.2V1082.4H1364.6V1075.2H1367.0V1084.8H1369.4V1080.0H1371.8V1077.6H1374.2V1080.0H1376.6V1077.6H1379.0V1084.8H1381.4V1080.0H1383.8V1075.2H1386.2V1080.0H1388.6V1077.6H1391.0V1084.8H1393.4V1075.2H1395.8V1070.4H1398.2V1077.6H1403.0V1075.2H1405.4V1070.4H1407.8V1077.6H1410.2V1082.4H1412.6V1070.4H1415.0V1080.0H1417.4V1075.2H1419.8V1082.4H1422.2V1077.6H1424.6V1075.2H1427.0V1077.6H1431.8V1072.8H1434.2V1077.6H1436.6V1072.8H1439.0V1070.4H1441.4V1080.0H1443.8V1072.8H1448.6V1075.2H1451.0V1068.0H1453.4V1070.4H1455.8V1072.8H1458.2V1070.4H1460.6V1072.8H1463.0V1075.2H1465.4V1070.4H1467.8V1072.8H1470.2V1075.2H1472.6V1068.0H1475.0V1072.8H1477.4V1068.0H1479.8V1075.2H1482.2V1072.8H1484.6V1070.4H1487.0V1068.0H1489.4V1070.4H1491.8V1068.0H1494.2V1072.8H1496.6V1070.4H1499.0V1068.0H1501.4V1072.8H1506.2V1068.0H1508.6V1072.8H1511.0V1068.0H1518.2V1065.6H1523.0V1068.0H1525.4V1072.8H1527.8V1070.4H1530.2V1065.6H1532.6V1070.4H1535.0V1065.6H1537.4V1068.0H1542.2V1065.6H1544.6V1072.8H1547.0V1065.6H1549.4V1060.8H1551.8V1068.0H1554.2V1063.2H1559.0V1056.0H1561.4V1065.6H1571.0V1068.0H1573.4V1063.2H1575.8V1065.6H1578.2V1060.8H1583.0V1063.2H1587.8V1056.0H1590.2V1060.8H1595.0V1058.4H1597.4V1060.8H1599.8V1058.4H1602.2V1053.6H1604.6V1056.0H1607.0V1063.2H1609.4V1053.6H1611.8V1058.4H1619.0V1051.2H1621.4V1053.6H1628.6V1048.8H1631.0V1046.4H1633.4V1048.8H1638.2V1044.0H1640.6V1039.2H1645.4V1036.8H1647.8V1039.2H1650.2V1032.0H1652.6V1036.8H1655.0V1034.4H1659.8V1039.2H1667.0V1044.0H1669.4V1039.2H1671.8V1044.0H1674.2V1048.8H1679.0V1051.2H1681.4V1046.4H1683.8V1044.0H1686.2V1051.2H1691.0V1056.0H1693.4V1051.2H1695.8V1048.8H1698.2V1053.6H1700.6V1048.8H1703.0V1046.4H1705.4V1058.4H1707.8V1051.2H1715.0V1053.6H1717.4V1051.2H1719.8V1053.6H1722.2V1046.4H1724.6V1044.0H1727.0V1053.6H1731.8V1051.2H1734.2V1048.8H1739.0V1046.4H1741.4V1053.6H1743.8V1048.8H1751.0V1051.2H1753.4V1048.8H1758.2V1044.0H1760.6V1048.8H1763.0V1053.6H1765.4V1044.0H1767.8V1046.4H1770.2V1048.8H1777.4V1041.6H1779.8V1046.4H1782.2V1041.6H1784.6V1044.0H1787.0V1046.4H1789.4V1044.0H1791.8V1046.4H1794.2V1053.6H1796.6V1046.4H1801.4V1041.6H1811.0V1039.2H1813.4V1041.6H1818.2V1039.2H1825.4V1044.0H1827.8V1041.6H1830.2V1044.0H1835.0V1041.6H1837.4V1044.0H1839.8V1036.8H1842.2V1048.8H1844.6V1044.0H1847.0V1039.2H1849.4V1036.8H1851.8V1041.6H1854.2V1034.4H1856.6V1036.8H1859.0V1041.6H1861.4V1039.2H1863.8V1036.8H1866.2V1041.6H1868.6V1036.8H1871.0V1039.2H1873.4V1036.8H1875.8V1034.4H1878.2V1039.2H1880.6V1034.4H1883.0V1041.6H1885.4V1034.4H1887.8V1041.6H1890.2V1032.0H1892.6V1036.8H1895.0V1032.0H1899.8V1036.8H1904.6V1032.0H1907.0V1036.8H1909.4V1032.0H1911.8V1034.4H1919.0V1027.2H1921.4V1036.8H1923.8V1034.4H1926.2V1032.0H1928.6V1029.6H1931.0V1027.2H1935.8V1032.0H1938.2V1029.6H1940.6V1027.2H1943.0V1029.6H1945.4V1034.4H1947.8V1029.6H1950.2V1027.2H1952.6V1034.4H1955.0V1029.6H1959.8V1027.2H1962.2V1024.8H1967.0V1027.2H1974.2V1029.6H1976.6V1027.2H1981.4V1022.4H1983.8V1020.0H1986.2V1024.8H1988.6V1022.4H1993.4V1024.8H1995.8V1022.4H2000.6V1024.8H2005.4V1022.4H2007.8V1024.8H2010.2V1022.4H2012.6V1020.0H2015.0V1022.4H2017.4V1027.2H2019.8V1020.0H2022.2V1024.8H2024.6V1027.2H2029.4V1020.0H2031.8V1027.2H2034.2V1022.4H2036.6V1020.0H2041.4V1022.4H2043.8V1020.0H2048.6V1022.4H2051.0V1017.6H2053.4V1015.2H2055.8V1020.0H2060.6V1022.4H2063.0V1015.2H2065.4V1020.0H2067.8V1017.6H2070.2V1022.4H2072.6V1012.8H2075.0V1017.6H2077.4V1015.2H2079.8V1010.4H2082.2V1012.8H2084.6V1017.6H2087.0V1012.8H2091.8V1015.2H2096.6V1012.8H2099.0V1008.0H2103.8V1010.4H2106.2V1003.2H2108.6V998.4H2111.0V1000.8H2113.4V998.4H2115.8V988.8H2118.2V979.2H2123.0V976.8H2125.4V974.4H2130.2V967.2H2132.6V964.8H2135.0V967.2H2137.4V964.8H2139.8V967.2H2144.6V981.6H2147.0V979.2H2149.4V976.8H2151.8V981.6H2154.2V986.4H2159.0V991.2H2161.4V993.6H2163.8V1000.8H2166.2V998.4H2168.6V1000.8H2171.0V998.4H2173.4V1000.8H2175.8V1003.2H2180.6V1008.0H2183.0V1003.2H2185.4V1008.0H2187.8V1005.6H2192.6V998.4H2195.0V1000.8H2197.4V1008.0H2202.2V1005.6H2204.6V1008.0H2207.0V1003.2H2214.2V1008.0H2216.6V1005.6H2219.0V1003.2H2223.8V1005.6H2228.6V1000.8H2231.0V1008.0H2233.4V1005.6H2235.8V1003.2H2238.2V1008.0H2240.6V1005.6H2243.0V1003.2H2245.4V1005.6H2247.8V1000.8H2252.6V996.0H2255.0V1005.6H2257.4V996.0H2259.8V1005.6H2262.2V1000.8H2264.6V998.4H2267.0V1000.8H2269.4V1003.2H2274.2V1008.0H2276.6V1003.2H2281.4V998.4H2283.8V1003.2H2286.2V1000.8H2288.6V998.4H2291.0V1000.8H2300.6V998.4H2305.4V1000.8H2307.8V993.6H2310.2V998.4H2312.6V1003.2H2315.0V991.2H2317.4V996.0H2319.8V1000.8H2322.2V993.6H2324.6V1005.6H2327.0V991.2H2329.4V1003.2H2334.2V1000.8H2336.6V996.0H2339.0V998.4H2341.4V993.6H2343.8V998.4H2346.2V993.6H2348.6V996.0H2351.0V1000.8H2353.4V993.6H2355.8V996.0H2360.6V991.2H2363.0V998.4H2365.4V996.0H2367.8V991.2H2370.2V996.0H2372.6V993.6H2377.4V996.0H2379.8V993.6H2382.2V998.4H2384.6V993.6H2387.0V998.4H2389.4V993.6H2391.8V996.0H2394.2V991.2H2394.2"/>
<path stroke="#00f" d="M383.0 902.4H387.8V907.2H390.2V909.6H392.6V914.4H395.0V912.0H397.4V909.6H402.2V912.0H407.0V916.8H409.4V914.4H411.8V912.0H416.6V919.2H419.0V916.8H421.4V914.4H423.8V919.2H426.2V916.8H433.4V912.0H435.8V921.6H438.2V916.8H440.6V919.2H445.4V924.0H447.8V921.6H452.6V916.8H455.0V921.6H457.4V919.2H459.8V924.0H467.0V931.2H469.4V926.4H479.0V928.8H481.4V931.2H483.8V924.0H486.2V931.2H495.8V926.4H500.6V936.0H503.0V933.6H505.4V928.8H507.8V933.6H510.2V931.2H512.6V928.8H515.0V926.4H517.4V928.8H519.8V936.0H522.2V933.6H527.0V936.0H529.4V938.4H531.8V928.8H534.2V936.0H536.6V933.6H541.4V936.0H543.8V938.4H546.2V936.0H548.6V933.6H551.0V936.0H553.4V945.6H555.8V936.0H558.2V933.6H560.6V940.8H567.8V938.4H570.2V943.2H572.6V938.4H577.4V940.8H582.2V945.6H587.0V943.2H589.4V945.6H591.8V943.2H594.2V945.6H596.6V940.8H599.0V938.4H601.4V945.6H603.8V940.8H606.2V943.2H608.6V945.6H611.0V943.2H615.8V950.4H618.2V938.4H620.6V948.0H623.0V952.8H625.4V945.6H627.8V948.0H630.2V950.4H632.6V952.8H635.0V943.2H637.4V948.0H642.2V950.4H644.6V948.0H647.0V950.4H649.4V948.0H651.8V950.4H654.2V948.0H659.0V950.4H663.8V945.6H666.2V955.2H668.6V950.4H671.0V945.6H673.4V952.8H675.8V948.0H678.2V952.8H680.6V950.4H683.0V952.8H685.4V950.4H692.6V957.6H695.0V945.6H697.4V952.8H702.2V948.0H707.0V957.6H709.4V950.4H711.8V957.6H714.2V952.8H721.4V955.2H728.6V952.8H733.4V957.6H735.8V955.2H738.2V950.4H743.0V955.2H745.4V952.8H750.2V950.4H752.6V952.8H755.0V955.2H757.4V957.6H759.8V955.2H762.2V960.0H764.6V955.2H767.0V964.8H769.4V957.6H771.8V955.2H774.2V952.8H776.6V945.6H779.0V955.2H783.8V960.0H786.2V950.4H788.6V960.0H791.0V952.8H793.4V955.2H795.8V945.6H798.2V955.2H800.6V952.8H803.0V955.2H805.4V952.8H807.8V950.4H810.2V955.2H822.2V952.8H824.6V948.0H829.4V957.6H831.8V955.2H834.2V952.8H836.6V950.4H839.0V952.8H843.8V950.4H848.6V957.6H851.0V952.8H853.4V950.4H855.8V948.0H858.2V950.4H860.6V952.8H865.4V950.4H872.6V948.0H875.0V955.2H877.4V952.8H879.8V957.6H882.2V948.0H884.6V950.4H887.0V952.8H889.4V950.4H891.8V945.6H894.2V948.0H896.6V950.4H903.8V952.8H908.6V950.4H913.4V948.0H915.8V950.4H920.6V948.0H923.0V950.4H925.4V948.0H927.8V943.2H930.2V945.6H932.6V950.4H937.4V952.8H939.8V948.0H942.2V950.4H949.4V945.6H951.8V948.0H956.6V943.2H959.0V948.0H961.4V950.4H963.8V945.6H966.2V952.8H968.6V945.6H975.8V943.2H978.2V948.0H980.6V945.6H983.0V950.4H985.4V948.0H987.8V945.6H990.2V943.2H992.6V940.8H995.0V943.2H997.4V940.8H999.8V945.6H1002.2V943.2H1004.6V948.0H1007.0V945.6H1011.8V943.2H1014.2V940.8H1016.6V943.2H1021.4V938.4H1023.8V940.8H1026.2V948.0H1028.6V938.4H1033.4V936.0H1035.8V933.6H1038.2V940.8H1040.6V936.0H1043.0V933.6H1045.4V936.0H1047.8V933.6H1050.2V916.8H1052.6V914.4H1055.0V902.4H1057.4V888.0H1059.8V868.8H1062.2V844.8H1064.6V823.2H1067.0V792.0H1069.4V760.8H1071.8V732.0H1074.2V703.2H1076.6V676.8H1079.0V660.0H1081.4V657.6H1083.8V655.2H1086.2V669.6H1088.6V691.2H1091.0V724.8H1093.4V756.0H1095.8V794.4H1098.2V825.6H1100.6V847.2H1103.0V876.0H1105.4V895.2H1107.8V907.2H1110.2V914.4H1112.6V926.4H1117.4V928.8H1119.8V931.2H1122.2V933.6H1124.6V938.4H1129.4V936.0H1131.8V933.6H1134.2V936.0H1136.6V933.6H1139.0V936.0H1141.4V931.2H1143.8V938.4H1148.6V936.0H1151.0V938.4H1153.4V933.6H1155.8V931.2H1158.2V933.6H1160.6V938.4H1165.4V933.6H1167.8V938.4H1170.2V933.6H1172.6V940.8H1175.0V936.0H1177.4V933.6H1179.8V938.4H1182.2V933.6H1184.6V931.2H1189.4V936.0H1191.8V933.6H1199.0V938.4H1201.4V933.6H1203.8V931.2H1206.2V936.0H1208.6V938.4H1211.0V933.6H1213.4V928.8H1215.8V931.2H1218.2V933.6H1223.0V936.0H1225.4V928.8H1227.8V933.6H1230.2V931.2H1232.6V936.0H1235.0V931.2H1237.4V933.6H1239.8V928.8H1242.2V926.4H1244.6V928.8H1251.8V933.6H1256.6V931.2H1259.0V926.4H1261.4V928.8H1266.2V933.6H1268.6V931.2H1273.4V928.8H1275.8V924.0H1278.2V926.4H1283.0V928.8H1287.8V926.4H1292.6V931.2H1295.0V924.0H1299.8V926.4H1302.2V924.0H1304.6V926.4H1307.0V928.8H1309.4V931.2H1311.8V921.6H1314.2V926.4H1326.2V928.8H1328.6V924.0H1331.0V926.4H1340.6V928.8H1343.0V926.4H1350.2V921.6H1352.6V924.0H1355.0V921.6H1357.4V926.4H1359.8V924.0H1362.2V921.6H1364.6V926.4H1369.4V919.2H1371.8V928.8H1374.2V924.0H1379.0V928.8H1381.4V924.0H1383.8V921.6H1386.2V931.2H1388.6V921.6H1391.0V924.0H1393.4V926.4H1395.8V921.6H1398.2V924.0H1403.0V931.2H1405.4V921.6H1407.8V924.0H1410.2V926.4H1412.6V924.0H1415.0V919.2H1417.4V924.0H1424.6V926.4H1429.4V924.0H1434.2V919.2H1436.6V921.6H1439.0V924.0H1441.4V921.6H1446.2V919.2H1448.6V926.4H1451.0V928.8H1453.4V919.2H1455.8V921.6H1460.6V924.0H1463.0V921.6H1467.8V919.2H1470.2V921.6H1472.6V916.8H1475.0V921.6H1477.4V919.2H1479.8V921.6H1482.2V919.2H1484.6V924.0H1487.0V919.2H1489.4V921.6H1491.8V916.8H1494.2V921.6H1496.6V919.2H1503.8V921.6H1506.2V912.0H1508.6V919.2H1511.0V914.4H1513.4V921.6H1515.8V912.0H1518.2V914.4H1520.6V912.0H1523.0V921.6H1525.4V914.4H1527.8V916.8H1532.6V912.0H1535.0V916.8H1537.4V919.2H1539.8V916.8H1542.2V919.2H1544.6V914.4H1547.0V916.8H1549.4V914.4H1551.8V916.8H1554.2V921.6H1556.6V916.8H1561.4V914.4H1563.8V912.0H1566.2V919.2H1568.6V912.0H1573.4V914.4H1578.2V919.2H1580.6V907.2H1583.0V914.4H1585.4V916.8H1587.8V909.6H1590.2V912.0H1592.6V914.4H1595.0V916.8H1597.4V909.6H1599.8V907.2H1602.2V914.4H1604.6V916.8H1607.0V912.0H1609.4V904.8H1611.8V914.4H1614.2V909.6H1616.6V914.4H1619.0V909.6H1621.4V907.2H1626.2V912.0H1628.6V909.6H1631.0V900.0H1633.4V902.4H1635.8V907.2H1638.2V900.0H1640.6V895.2H1643.0V897.6H1647.8V895.2H1650.2V892.8H1655.0V890.4H1657.4V892.8H1659.8V888.0H1662.2V890.4H1664.6V892.8H1667.0V897.6H1669.4V895.2H1674.2V897.6H1679.0V902.4H1681.4V900.0H1683.8V904.8H1688.6V902.4H1693.4V904.8H1700.6V900.0H1705.4V907.2H1712.6V902.4H1715.0V909.6H1717.4V904.8H1719.8V907.2H1724.6V904.8H1729.4V900.0H1731.8V904.8H1734.2V902.4H1736.6V907.2H1741.4V909.6H1743.8V907.2H1746.2V904.8H1748.6V907.2H1751.0V904.8H1753.4V909.6H1755.8V907.2H1758.2V904.8H1760.6V907.2H1765.4V904.8H1767.8V909.6H1772.6V904.8H1777.4V897.6H1779.8V904.8H1782.2V902.4H1784.6V897.6H1787.0V904.8H1791.8V902.4H1796.6V900.0H1799.0V904.8H1801.4V897.6H1803.8V902.4H1806.2V907.2H1808.6V902.4H1813.4V900.0H1815.8V897.6H1818.2V900.0H1820.6V902.4H1823.0V897.6H1825.4V902.4H1827.8V904.8H1830.2V902.4H1832.6V895.2H1835.0V897.6H1837.4V895.2H1839.8V902.4H1847.0V897.6H1849.4V895.2H1851.8V900.0H1856.6V897.6H1859.0V900.0H1866.2V895.2H1868.6V892.8H1871.0V897.6H1880.6V895.2H1883.0V900.0H1885.4V897.6H1890.2V895.2H1895.0V897.6H1897.4V892.8H1902.2V895.2H1904.6V900.0H1907.0V897.6H1909.4V900.0H1911.8V895.2H1916.6V892.8H1919.0V895.2H1921.4V900.0H1923.8V897.6H1931.0V895.2H1938.2V897.6H1940.6V895.2H1947.8V892.8H1952.6V890.4H1955.0V897.6H1957.4V888.0H1959.8V892.8H1962.2V900.0H1964.6V892.8H1967.0V890.4H1969.4V892.8H1971.8V897.6H1974.2V892.8H1976.6V895.2H1979.0V892.8H1981.4V890.4H1983.8V902.4H1986.2V892.8H1988.6V890.4H1993.4V892.8H2003.0V888.0H2005.4V892.8H2007.8V890.4H2012.6V885.6H2015.0V888.0H2019.8V890.4H2022.2V885.6H2024.6V890.4H2029.4V885.6H2031.8V888.0H2036.6V892.8H2039.0V883.2H2041.4V888.0H2043.8V883.2H2046.2V888.0H2048.6V890.4H2051.0V888.0H2055.8V885.6H2058.2V892.8H2060.6V890.4H2065.4V883.2H2070.2V890.4H2072.6V885.6H2077.4V888.0H2079.8V880.8H2082.2V888.0H2084.6V885.6H2089.4V883.2H2091.8V885.6H2094.2V880.8H2096.6V885.6H2101.4V883.2H2103.8V880.8H2108.6V871.2H2111.0V878.4H2113.4V873.6H2118.2V871.2H2120.6V864.0H2130.2V854.4H2132.6V849.6H2135.0V854.4H2137.4V844.8H2139.8V849.6H2142.2V842.4H2144.6V837.6H2147.0V840.0H2149.4V842.4H2151.8V832.8H2154.2V842.4H2156.6V837.6H2159.0V844.8H2161.4V842.4H2166.2V852.0H2168.6V854.4H2171.0V861.6H2173.4V864.0H2183.0V866.4H2187.8V871.2H2190.2V864.0H2192.6V873.6H2197.4V883.2H2199.8V878.4H2202.2V873.6H2204.6V878.4H2207.0V873.6H2209.4V876.0H2211.8V871.2H2214.2V880.8H2216.6V878.4H2219.0V873.6H2221.4V878.4H2223.8V880.8H2226.2V878.4H2231.0V876.0H2235.8V878.4H2238.2V880.8H2240.6V876.0H2245.4V880.8H2247.8V876.0H2250.2V880.8H2252.6V878.4H2255.0V880.8H2257.4V883.2H2259.8V880.8H2264.6V876.0H2269.4V880.8H2271.8V883.2H2274.2V880.8H2276.6V885.6H2279.0V878.4H2283.8V880.8H2286.2V878.4H2288.6V876.0H2291.0V873.6H2293.4V880.8H2295.8V873.6H2298.2V878.4H2300.6V873.6H2303.0V880.8H2305.4V873.6H2307.8V878.4H2310.2V871.2H2312.6V876.0H2315.0V880.8H2317.4V873.6H2319.8V876.0H2322.2V873.6H2324.6V868.8H2327.0V876.0H2331.8V871.2H2334.2V876.0H2336.6V873.6H2339.0V871.2H2341.4V876.0H2343.8V873.6H2346.2V880.8H2348.6V871.2H2351.0V876.0H2353.4V878.4H2355.8V868.8H2360.6V876.0H2363.0V873.6H2365.4V876.0H2367.8V878.4H2370.2V873.6H2372.6V871.2H2375.0V866.4H2377.4V873.6H2379.8V871.2H2382.2V873.6H2387.0V868.8H2389.4V878.4H2391.8V876.0H2394.2"/>
</g>
<rect x="1030" y="348" width="92" height="98" fill="#fff"/>
<text x="1074.8" y="417.8" text-anchor="middle" font-family="'DejaVu Sans', sans-serif" font-size="52" fill="#111" stroke="#fff" stroke-width="0.8" letter-spacing="-1.5">1, 2</text>
<text x="700.7" y="1395.7" text-anchor="middle" font-family="'DejaVu Sans', sans-serif" font-size="52" fill="#111" stroke="#fff" stroke-width="0.8">2</text>
<text x="1284.3" y="1399.7" text-anchor="middle" font-family="'DejaVu Sans', sans-serif" font-size="52" fill="#111" stroke="#fff" stroke-width="0.8">2</text>
<text x="1659.5" y="1284.1" text-anchor="middle" font-family="'DejaVu Sans', sans-serif" font-size="52" fill="#111" stroke="#fff" stroke-width="0.8">1</text>
<text x="2178.5" y="1266.0" text-anchor="middle" font-family="'DejaVu Sans', sans-serif" font-size="52" fill="#111" stroke="#fff" stroke-width="0.8">1</text>
<text x="1649.5" y="1127.2" text-anchor="middle" font-family="'DejaVu Sans', sans-serif" font-size="52" fill="#111" stroke="#fff" stroke-width="0.8">1</text>
<text x="2141.4" y="1059.5" text-anchor="middle" font-family="'DejaVu Sans', sans-serif" font-size="52" fill="#111" stroke="#fff" stroke-width="0.8">1</text>
<text x="1644.6" y="998.1" text-anchor="middle" font-family="'DejaVu Sans', sans-serif" font-size="52" fill="#111" stroke="#fff" stroke-width="0.8">1</text>
<text x="2139.2" y="932.5" text-anchor="middle" font-family="'DejaVu Sans', sans-serif" font-size="52" fill="#111" stroke="#fff" stroke-width="0.8">1</text>
<text x="1659.5" y="867.0" text-anchor="middle" font-family="'DejaVu Sans', sans-serif" font-size="52" fill="#111" stroke="#fff" stroke-width="0.8">1</text>
<text x="2196.4" y="853.1" text-anchor="middle" font-family="'DejaVu Sans', sans-serif" font-size="52" fill="#111" stroke="#fff" stroke-width="0.8">1</text>
<rect x="1431.5" y="176.9" width="908.6" height="595.9" fill="#fff" stroke="none"/>
<g fill="none" stroke-width="4.4" stroke-linejoin="miter" stroke-linecap="square" clip-path="url(#ic)">
<path stroke="#000" d="M1433.0 760.8H1459.4V758.4H1461.8V760.8H1490.6V758.4H1493.0V760.8H1495.4V758.4H1497.8V760.8H1507.4V758.4H1509.8V760.8H1512.2V758.4H1514.6V760.8H1521.8V758.4H1526.6V760.8H1533.8V758.4H1536.2V760.8H1541.0V758.4H1543.4V760.8H1545.8V758.4H1550.6V760.8H1555.4V758.4H1593.8V760.8H1596.2V758.4H1605.8V756.0H1608.2V758.4H1613.0V760.8H1615.4V758.4H1629.8V756.0H1632.2V758.4H1634.6V756.0H1646.6V758.4H1649.0V756.0H1651.4V758.4H1658.6V756.0H1661.0V758.4H1663.4V756.0H1711.4V753.6H1713.8V756.0H1718.6V753.6H1721.0V756.0H1723.4V753.6H1733.0V756.0H1735.4V753.6H1740.2V751.2H1752.2V748.8H1757.0V746.4H1759.4V748.8H1761.8V746.4H1766.6V744.0H1771.4V741.6H1773.8V744.0H1776.2V739.2H1781.0V736.8H1783.4V734.4H1788.2V729.6H1790.6V727.2H1795.4V724.8H1800.2V722.4H1802.6V720.0H1807.4V715.2H1812.2V710.4H1814.6V705.6H1817.0V703.2H1819.4V698.4H1821.8V691.2H1824.2V686.4H1826.6V679.2H1829.0V674.4H1831.4V667.2H1833.8V662.4H1836.2V657.6H1838.6V655.2H1841.0V648.0H1843.4V643.2H1845.8V633.6H1848.2V624.0H1850.6V612.0H1853.0V600.0H1855.4V583.2H1857.8V561.6H1860.2V542.4H1862.6V523.2H1865.0V501.6H1867.4V480.0H1869.8V460.8H1872.2V434.4H1874.6V410.4H1877.0V386.4H1879.4V355.2H1881.8V331.2H1884.2V312.0H1886.6V290.4H1889.0V266.4H1891.4V249.6H1893.8V247.2H1896.2V242.4H1898.6V240.0H1901.0V235.2H1903.4V249.6H1905.8V276.0H1908.2V302.4H1910.6V328.8H1913.0V352.8H1915.4V372.0H1917.8V388.8H1920.2V403.2H1922.6V420.0H1925.0V439.2H1927.4V456.0H1929.8V470.4H1932.2V484.8H1934.6V501.6H1937.0V523.2H1939.4V542.4H1941.8V566.4H1944.2V590.4H1946.6V612.0H1949.0V631.2H1951.4V645.6H1953.8V655.2H1956.2V667.2H1958.6V679.2H1961.0V686.4H1963.4V696.0H1965.8V703.2H1968.2V708.0H1970.6V712.8H1973.0V717.6H1975.4V722.4H1977.8V724.8H1980.2V727.2H1982.6V729.6H1985.0V732.0H1989.8V734.4H1992.2V736.8H1994.6V739.2H1997.0V741.6H2004.2V744.0H2011.4V746.4H2016.2V748.8H2023.4V751.2H2033.0V753.6H2042.6V756.0H2045.0V753.6H2049.8V756.0H2083.4V758.4H2107.4V760.8H2109.8V758.4H2121.8V760.8H2124.2V758.4H2133.8V760.8H2136.2V758.4H2143.4V760.8H2145.8V758.4H2148.2V760.8H2150.6V758.4H2153.0V760.8H2160.2V758.4H2165.0V760.8H2167.4V758.4H2169.8V760.8H2172.2V758.4H2174.6V760.8H2179.4V758.4H2181.8V760.8H2184.2V758.4H2191.4V760.8H2196.2V758.4H2198.6V760.8H2210.6V758.4H2213.0V760.8H2229.8V758.4H2234.6V760.8H2258.6V758.4H2261.0V760.8H2294.6V758.4H2297.0V760.8H2316.2V758.4H2318.6V760.8H2333.0V758.4H2335.4V760.8H2337.8"/>
<path stroke="#f00" d="M1433.0 760.8H1452.2V758.4H1454.6V760.8H1464.2V758.4H1471.4V760.8H1485.8V758.4H1490.6V760.8H1493.0V758.4H1495.4V760.8H1502.6V758.4H1507.4V760.8H1512.2V758.4H1521.8V760.8H1524.2V758.4H1538.6V760.8H1541.0V756.0H1543.4V758.4H1555.4V756.0H1562.6V758.4H1565.0V756.0H1574.6V758.4H1577.0V756.0H1596.2V753.6H1605.8V756.0H1608.2V753.6H1617.8V751.2H1625.0V748.8H1627.4V751.2H1632.2V748.8H1644.2V746.4H1649.0V744.0H1651.4V746.4H1653.8V744.0H1663.4V741.6H1665.8V744.0H1670.6V741.6H1680.2V739.2H1685.0V741.6H1687.4V739.2H1689.8V736.8H1697.0V734.4H1704.2V732.0H1711.4V729.6H1718.6V727.2H1721.0V724.8H1725.8V722.4H1730.6V720.0H1735.4V717.6H1740.2V715.2H1745.0V712.8H1747.4V710.4H1752.2V708.0H1757.0V705.6H1759.4V703.2H1761.8V700.8H1764.2V698.4H1766.6V696.0H1771.4V693.6H1773.8V691.2H1776.2V688.8H1778.6V686.4H1783.4V684.0H1785.8V679.2H1788.2V676.8H1790.6V672.0H1793.0V669.6H1795.4V664.8H1800.2V660.0H1805.0V655.2H1807.4V652.8H1809.8V650.4H1812.2V645.6H1814.6V643.2H1817.0V638.4H1819.4V633.6H1821.8V628.8H1824.2V626.4H1826.6V621.6H1829.0V616.8H1831.4V612.0H1833.8V609.6H1836.2V604.8H1838.6V600.0H1841.0V597.6H1843.4V595.2H1845.8V592.8H1848.2V588.0H1850.6V585.6H1853.0V583.2H1855.4V578.4H1857.8V576.0H1860.2V573.6H1862.6V571.2H1865.0V568.8H1867.4V564.0H1869.8V561.6H1872.2V559.2H1874.6V556.8H1877.0V554.4H1879.4V552.0H1893.8V549.6H1903.4V552.0H1908.2V554.4H1913.0V556.8H1915.4V559.2H1917.8V561.6H1920.2V564.0H1922.6V568.8H1927.4V573.6H1929.8V576.0H1932.2V578.4H1934.6V580.8H1937.0V583.2H1939.4V585.6H1941.8V590.4H1944.2V592.8H1946.6V597.6H1949.0V600.0H1951.4V604.8H1953.8V609.6H1956.2V614.4H1958.6V619.2H1961.0V621.6H1963.4V626.4H1965.8V631.2H1968.2V633.6H1970.6V638.4H1973.0V640.8H1975.4V643.2H1977.8V648.0H1980.2V650.4H1982.6V655.2H1985.0V660.0H1987.4V664.8H1989.8V669.6H1992.2V672.0H1994.6V674.4H1997.0V676.8H1999.4V679.2H2001.8V681.6H2006.6V686.4H2009.0V688.8H2011.4V691.2H2013.8V696.0H2016.2V698.4H2018.6V700.8H2021.0V703.2H2028.2V705.6H2030.6V708.0H2033.0V710.4H2037.8V712.8H2040.2V715.2H2045.0V717.6H2049.8V720.0H2052.2V722.4H2059.4V724.8H2061.8V727.2H2066.6V729.6H2071.4V732.0H2078.6V734.4H2085.8V736.8H2093.0V739.2H2100.2V741.6H2105.0V744.0H2112.2V741.6H2114.6V744.0H2119.4V746.4H2136.2V748.8H2138.6V746.4H2141.0V748.8H2153.0V751.2H2172.2V753.6H2174.6V751.2H2179.4V753.6H2181.8V751.2H2186.6V753.6H2201.0V756.0H2210.6V753.6H2213.0V756.0H2232.2V758.4H2234.6V756.0H2244.2V758.4H2258.6V756.0H2261.0V758.4H2263.4V756.0H2268.2V758.4H2277.8V756.0H2280.2V758.4H2282.6V760.8H2285.0V758.4H2309.0V756.0H2311.4V758.4H2323.4V756.0H2337.8"/>
<path stroke="#0f0" d="M1433.0 760.8H1435.4V758.4H1437.8V760.8H1445.0V758.4H1447.4V760.8H1452.2V758.4H1454.6V760.8H1466.6V758.4H1478.6V760.8H1481.0V758.4H1502.6V760.8H1505.0V758.4H1512.2V756.0H1514.6V758.4H1533.8V756.0H1536.2V758.4H1543.4V756.0H1545.8V758.4H1548.2V756.0H1569.8V753.6H1574.6V756.0H1577.0V753.6H1579.4V756.0H1584.2V753.6H1586.6V756.0H1589.0V753.6H1596.2V751.2H1598.6V753.6H1608.2V751.2H1615.4V753.6H1617.8V751.2H1632.2V748.8H1634.6V751.2H1644.2V748.8H1653.8V746.4H1670.6V744.0H1675.4V746.4H1677.8V744.0H1680.2V741.6H1682.6V744.0H1687.4V741.6H1694.6V739.2H1704.2V736.8H1713.8V734.4H1718.6V732.0H1730.6V729.6H1735.4V727.2H1740.2V724.8H1747.4V722.4H1752.2V720.0H1757.0V717.6H1759.4V720.0H1761.8V715.2H1764.2V712.8H1766.6V710.4H1771.4V705.6H1778.6V703.2H1783.4V700.8H1785.8V698.4H1788.2V696.0H1793.0V693.6H1797.8V691.2H1800.2V688.8H1802.6V686.4H1805.0V684.0H1807.4V681.6H1809.8V679.2H1812.2V676.8H1817.0V674.4H1819.4V672.0H1821.8V669.6H1829.0V664.8H1833.8V662.4H1838.6V660.0H1843.4V657.6H1848.2V655.2H1850.6V652.8H1855.4V650.4H1860.2V648.0H1865.0V645.6H1869.8V643.2H1877.0V640.8H1879.4V643.2H1881.8V640.8H1891.4V638.4H1896.2V640.8H1910.6V643.2H1920.2V645.6H1922.6V648.0H1932.2V650.4H1934.6V652.8H1939.4V655.2H1944.2V657.6H1946.6V660.0H1949.0V662.4H1953.8V664.8H1956.2V667.2H1961.0V669.6H1963.4V672.0H1968.2V674.4H1970.6V676.8H1975.4V679.2H1977.8V681.6H1982.6V684.0H1985.0V686.4H1989.8V688.8H1992.2V691.2H1997.0V693.6H1999.4V696.0H2006.6V698.4H2009.0V700.8H2011.4V703.2H2018.6V705.6H2021.0V708.0H2025.8V710.4H2028.2V712.8H2033.0V715.2H2035.4V717.6H2040.2V720.0H2045.0V722.4H2047.4V724.8H2052.2V727.2H2057.0V729.6H2059.4V732.0H2064.2V734.4H2073.8V736.8H2078.6V739.2H2081.0V736.8H2083.4V739.2H2090.6V741.6H2095.4V744.0H2097.8V741.6H2100.2V744.0H2105.0V746.4H2112.2V744.0H2114.6V746.4H2121.8V748.8H2124.2V746.4H2131.4V748.8H2141.0V751.2H2143.4V748.8H2145.8V751.2H2148.2V748.8H2153.0V751.2H2155.4V748.8H2157.8V751.2H2165.0V753.6H2193.8V756.0H2196.2V753.6H2198.6V756.0H2213.0V758.4H2215.4V756.0H2217.8V758.4H2220.2V756.0H2222.6V758.4H2239.4V756.0H2241.8V758.4H2258.6V760.8H2263.4V758.4H2268.2V760.8H2270.6V758.4H2280.2V760.8H2287.4V758.4H2294.6V760.8H2297.0V758.4H2299.4V760.8H2301.8V758.4H2306.6V760.8H2311.4V758.4H2316.2V760.8H2323.4V758.4H2325.8V760.8H2333.0V758.4H2337.8"/>
<path stroke="#00f" d="M1433.0 756.0H1459.4V753.6H1461.8V756.0H1464.2V753.6H1469.0V756.0H1471.4V753.6H1497.8V751.2H1500.2V753.6H1517.0V751.2H1519.4V753.6H1521.8V751.2H1524.2V753.6H1526.6V751.2H1531.4V753.6H1533.8V751.2H1565.0V748.8H1569.8V751.2H1572.2V748.8H1581.8V751.2H1584.2V748.8H1586.6V751.2H1589.0V748.8H1591.4V746.4H1593.8V748.8H1598.6V746.4H1601.0V748.8H1603.4V746.4H1615.4V744.0H1617.8V746.4H1620.2V744.0H1634.6V741.6H1646.6V739.2H1663.4V736.8H1677.8V734.4H1689.8V732.0H1699.4V729.6H1704.2V727.2H1716.2V724.8H1725.8V722.4H1730.6V720.0H1733.0V722.4H1735.4V720.0H1737.8V717.6H1742.6V715.2H1749.8V712.8H1757.0V710.4H1761.8V708.0H1766.6V705.6H1771.4V703.2H1773.8V700.8H1776.2V703.2H1778.6V698.4H1781.0V696.0H1785.8V693.6H1790.6V691.2H1793.0V688.8H1795.4V686.4H1797.8V684.0H1800.2V681.6H1802.6V679.2H1805.0V676.8H1809.8V674.4H1812.2V669.6H1817.0V667.2H1819.4V664.8H1821.8V662.4H1826.6V657.6H1833.8V655.2H1838.6V652.8H1843.4V650.4H1845.8V648.0H1853.0V645.6H1855.4V643.2H1857.8V640.8H1860.2V643.2H1862.6V640.8H1867.4V638.4H1869.8V636.0H1891.4V633.6H1901.0V636.0H1903.4V638.4H1905.8V636.0H1908.2V638.4H1920.2V640.8H1927.4V643.2H1932.2V645.6H1937.0V648.0H1939.4V650.4H1941.8V652.8H1946.6V657.6H1949.0V660.0H1951.4V662.4H1956.2V664.8H1958.6V667.2H1963.4V669.6H1968.2V674.4H1973.0V676.8H1975.4V679.2H1977.8V681.6H1980.2V684.0H1982.6V686.4H1985.0V688.8H1989.8V693.6H1994.6V696.0H1999.4V698.4H2001.8V700.8H2004.2V703.2H2006.6V705.6H2011.4V708.0H2016.2V710.4H2023.4V712.8H2025.8V715.2H2035.4V717.6H2040.2V720.0H2045.0V722.4H2052.2V724.8H2054.6V727.2H2061.8V729.6H2071.4V732.0H2078.6V734.4H2083.4V736.8H2088.2V739.2H2095.4V741.6H2105.0V744.0H2109.8V741.6H2112.2V744.0H2117.0V746.4H2119.4V744.0H2121.8V746.4H2141.0V748.8H2143.4V746.4H2145.8V748.8H2157.8V751.2H2169.8V753.6H2174.6V751.2H2181.8V753.6H2203.4V756.0H2205.8V753.6H2208.2V756.0H2232.2V758.4H2237.0V756.0H2239.4V758.4H2241.8V756.0H2244.2V758.4H2246.6V756.0H2249.0V758.4H2253.8V756.0H2256.2V758.4H2261.0V756.0H2263.4V758.4H2273.0V760.8H2275.4V758.4H2277.8V756.0H2280.2V758.4H2297.0V756.0H2299.4V758.4H2316.2V760.8H2318.6V758.4H2337.8"/>
</g>
<path d="M1500.5 772.8 V766.8 M1569.8 772.8 V761.8 M1639.4 772.8 V766.8 M1706.4 772.8 V761.8 M1776.2 772.8 V766.8 M1846.1 772.8 V761.8 M1912.7 772.8 V766.8 M1982.6 772.8 V761.8 M2049.4 772.8 V766.8 M2118.7 772.8 V761.8 M2187.9 772.8 V766.8 M2255.4 772.8 V761.8 M2324.6 772.8 V766.8 M1431.5 233.8 H1440.0 M1431.5 293.3 H1444.5 M1431.5 350.6 H1440.0 M1431.5 410.1 H1444.5 M1431.5 469.7 H1440.0 M1431.5 527.0 H1444.5 M1431.5 586.6 H1440.0 M1431.5 646.2 H1444.5 M1431.5 703.2 H1440.0" stroke="#000" stroke-width="2.6" fill="none"/>
<rect x="1431.5" y="176.9" width="908.6" height="595.9" fill="none" stroke="#000" stroke-width="2.6"/>
<line x1="432" y1="257.3" x2="598.3" y2="257.3" stroke="#000" stroke-width="10"/>
<text x="610" y="279.6" font-size="68.6" font-weight="bold" letter-spacing="-0.55">Initial</text>
<line x1="432" y1="343.5" x2="598.3" y2="343.5" stroke="#f00" stroke-width="10"/>
<text x="610" y="366.5" font-size="68.6" font-weight="bold" letter-spacing="-0.55">0.5 h milled</text>
<line x1="432" y1="429.7" x2="598.3" y2="429.7" stroke="#0f0" stroke-width="10"/>
<text x="610" y="453.5" font-size="68.6" font-weight="bold" letter-spacing="-0.55">1 h milled</text>
<line x1="432" y1="515.9" x2="598.3" y2="515.9" stroke="#00f" stroke-width="10"/>
<text x="610" y="540.4" font-size="68.6" font-weight="bold" letter-spacing="-0.55">8 h milled</text>
<text x="413" y="120.7" font-size="83" font-weight="bold" letter-spacing="-0.96">Phase composition of powder</text>
<path d="M526.2 1521.4 V1504.4 M670.0 1521.4 V1490.4 M813.8 1521.4 V1504.4 M957.6 1521.4 V1490.4 M1101.4 1521.4 V1504.4 M1245.2 1521.4 V1490.4 M1389.0 1521.4 V1504.4 M1532.8 1521.4 V1490.4 M1676.6 1521.4 V1504.4 M1820.4 1521.4 V1490.4 M1964.2 1521.4 V1504.4 M2108.0 1521.4 V1490.4 M2251.8 1521.4 V1504.4 M382.4 1469.5 H414.4 M382.4 1337.9 H399.4 M382.4 1206.3 H414.4 M382.4 1074.6 H399.4 M382.4 942.9 H414.4 M382.4 811.3 H399.4 M382.4 679.7 H414.4 M382.4 548.1 H399.4 M382.4 416.5 H414.4 M382.4 284.8 H399.4 M382.4 155.7 H414.4" stroke="#000" stroke-width="5" fill="none"/>
<rect x="382.4" y="24.3" width="2013.5" height="1497.1" fill="none" stroke="#000" stroke-width="5.1"/>
<text x="382.4" y="1595.2" font-size="58.5" text-anchor="middle" stroke="#fff" stroke-width="0.9">20</text>
<text x="670.0" y="1595.2" font-size="58.5" text-anchor="middle" stroke="#fff" stroke-width="0.9">30</text>
<text x="957.6" y="1595.2" font-size="58.5" text-anchor="middle" stroke="#fff" stroke-width="0.9">40</text>
<text x="1245.2" y="1595.2" font-size="58.5" text-anchor="middle" stroke="#fff" stroke-width="0.9">50</text>
<text x="1532.8" y="1595.2" font-size="58.5" text-anchor="middle" stroke="#fff" stroke-width="0.9">60</text>
<text x="1820.4" y="1595.2" font-size="58.5" text-anchor="middle" stroke="#fff" stroke-width="0.9">70</text>
<text x="2108.0" y="1595.2" font-size="58.5" text-anchor="middle" stroke="#fff" stroke-width="0.9">80</text>
<text x="2395.6" y="1595.2" font-size="58.5" text-anchor="middle" stroke="#fff" stroke-width="0.9">90</text>
<text x="347.5" y="1488.8" font-size="60" text-anchor="end" letter-spacing="-0.65" stroke="#fff" stroke-width="0.9">20,000</text>
<text x="347.5" y="1225.6" font-size="60" text-anchor="end" letter-spacing="-0.65" stroke="#fff" stroke-width="0.9">30,000</text>
<text x="347.5" y="962.2" font-size="60" text-anchor="end" letter-spacing="-0.65" stroke="#fff" stroke-width="0.9">40,000</text>
<text x="347.5" y="699.0" font-size="60" text-anchor="end" letter-spacing="-0.65" stroke="#fff" stroke-width="0.9">50,000</text>
<text x="347.5" y="435.8" font-size="60" text-anchor="end" letter-spacing="-0.65" stroke="#fff" stroke-width="0.9">60,000</text>
<text x="347.5" y="175.0" font-size="60" text-anchor="end" letter-spacing="-0.65" stroke="#fff" stroke-width="0.9">70,000</text>
<text x="1047" y="1723" font-size="83.4">Position 2</text>
<text transform="translate(1468.4 1723) scale(1.07 1)" text-anchor="middle" font-family="'Liberation Serif', serif" font-size="76">&#920;</text>
<text x="1520" y="1723" font-size="83.4">/ deg</text>
<text transform="translate(78.8 1064.8) rotate(-90)" x="0" y="0" font-size="75.3" letter-spacing="0.9">Intensity / a.u.</text>
</svg></body></html>
